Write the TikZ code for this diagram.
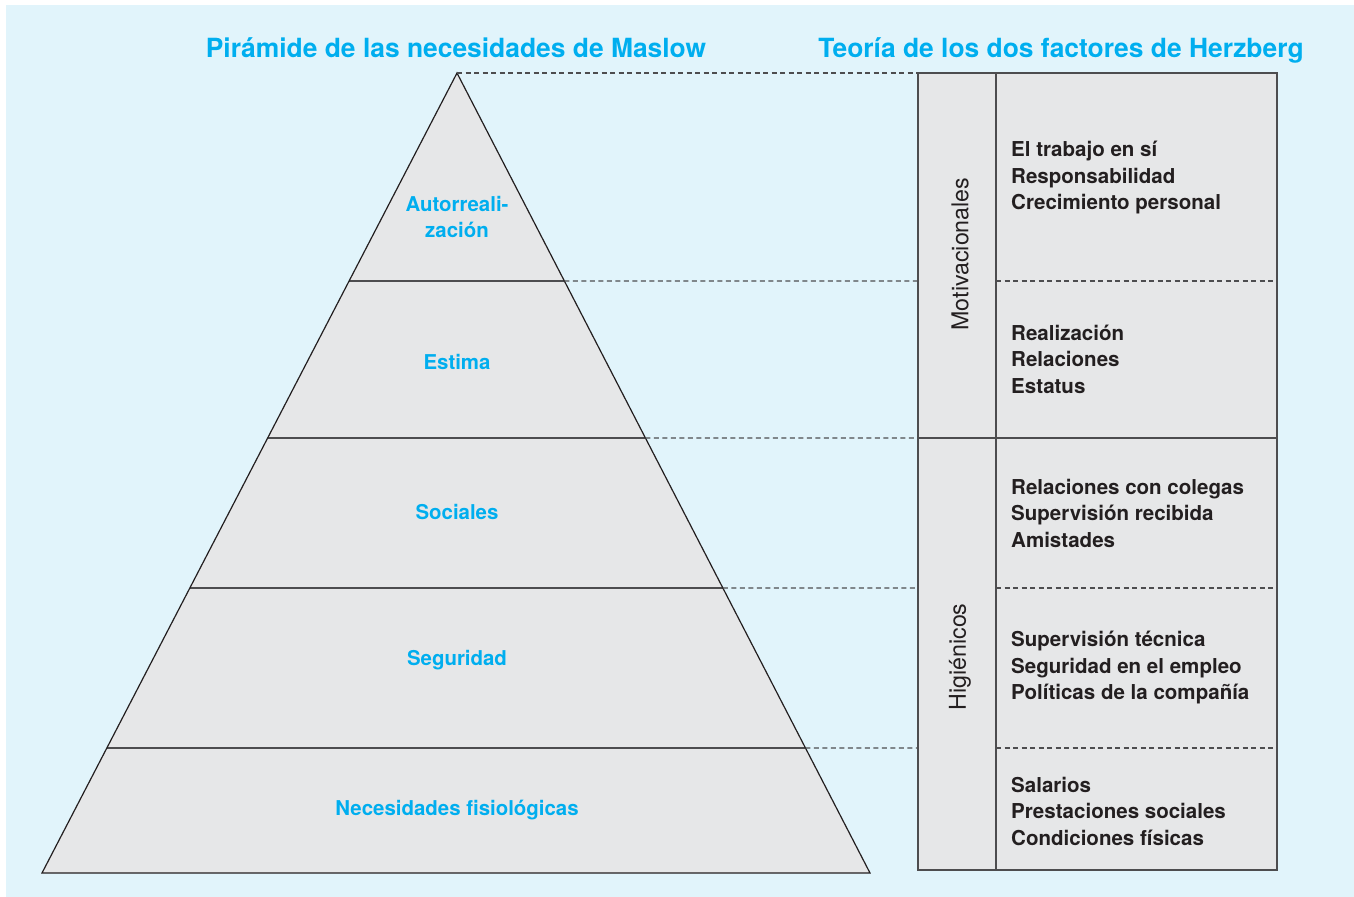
\documentclass[tikz,border=0pt]{standalone}
\usepackage{fontspec}
\setmainfont{TeX Gyre Heros}
\usetikzlibrary{calc}
\definecolor{bgblue}{HTML}{E1F4FB}
\definecolor{fillgray}{HTML}{E6E7E8}
\definecolor{cyanT}{HTML}{00AEEF}
\definecolor{txtdark}{HTML}{231F20}
\definecolor{linegray}{HTML}{4D4D4F}
\begin{document}
\begin{tikzpicture}[x=1bp,y=-1bp,
  titletext/.style={font=\fontsize{26.5}{30}\selectfont\bfseries, text=cyanT, anchor=base, inner sep=0pt},
  leveltext/.style={font=\fontsize{20.5}{26}\selectfont\bfseries, text=cyanT, align=center, inner sep=0pt},
  itemtext/.style={font=\fontsize{20.6}{26.6}\selectfont\bfseries, text=txtdark, align=left, anchor=west, inner sep=0pt},
  sidetext/.style={font=\fontsize{23.3}{26}\selectfont, text=txtdark, rotate=90, inner sep=0pt},
  outline/.style={draw=txtdark, line width=1.2bp},
  levelline/.style={draw=linegray, line width=1.8bp},
  tableline/.style={draw=linegray, line width=1.7bp},
  connector/.style={draw=linegray, line width=1.3bp, dash pattern=on 5bp off 3.5bp},
]
\useasboundingbox (0,0) rectangle (1354,896);
\fill[white] (0,0) rectangle (1354,896);
\fill[bgblue] (6,5) rectangle (1362,904);

% pyramid
\coordinate (apex) at (457,73);
\coordinate (BL) at (42,873);
\coordinate (BR) at (870,873);
\foreach \i/\yy in {1/281,2/438,3/588,4/748}{
  \coordinate (L\i) at ($(apex)!{(\yy-73)/800}!(BL)$);
  \coordinate (R\i) at ($(apex)!{(\yy-73)/800}!(BR)$);
}
\fill[fillgray] (apex) -- (BL) -- (BR) -- cycle;
\foreach \i in {1,2,3,4}{ \draw[levelline] (L\i) -- (R\i); }
\draw[outline, line join=miter] (apex) -- (BL) -- (BR) -- cycle;

% table
\coordinate (T0) at (918,73);
\coordinate (T1) at (918,281);
\coordinate (T2) at (918,438);
\coordinate (T3) at (918,588);
\coordinate (T4) at (918,748);
\coordinate (T5) at (918,870);
\coordinate (D0) at (996,73);
\coordinate (D1) at (996,281);
\coordinate (D2) at (996,438);
\coordinate (D3) at (996,588);
\coordinate (D4) at (996,748);
\coordinate (D5) at (996,870);
\coordinate (E0) at (1277,73);
\coordinate (E1) at (1277,281);
\coordinate (E2) at (1277,438);
\coordinate (E3) at (1277,588);
\coordinate (E4) at (1277,748);
\coordinate (E5) at (1277,870);
\fill[fillgray] (T0) rectangle (E5);
\draw[connector] (D1) -- (E1);
\draw[connector] (D3) -- (E3);
\draw[connector] (D4) -- (E4);
\draw[tableline] (T2) -- (E2);
\draw[tableline] (D0) -- (D5);
\draw[tableline] (T0) rectangle (E5);

% connectors pyramid -> table
\draw[connector] (apex) -- (T0);
\draw[connector] (R1) -- (T1);
\draw[connector] (R2) -- (T2);
\draw[connector] (R3) -- (T3);
\draw[connector] (R4) -- (T4);

% titles
\node[titletext] (t1) at (456,57) {Pirámide de las necesidades de Maslow};
\node[titletext] (t2) at (1061,57) {Teoría de los dos factores de Herzberg};

% pyramid labels
\node[leveltext] (l5) at (457,217) {Autorreali-\\zación};
\node[leveltext] (l4) at (457,362) {Estima};
\node[leveltext] (l3) at (457,512) {Sociales};
\node[leveltext] (l2) at (457,660) {Seguridad};
\node[leveltext] (l1) at (457,810) {Necesidades fisiológicas};

% side labels
\node[sidetext] (mot) at (960,254) {Motivacionales};
\node[sidetext] (hig) at (960,657) {Higiénicos};

% items
\node[itemtext] (i5) at (1011,178) {El trabajo en sí\\Responsabilidad\\Crecimiento personal};
\node[itemtext] (i4) at (1011,359) {Realización\\Relaciones\\Estatus};
\node[itemtext] (i3) at (1011,513) {Relaciones con colegas\\Supervisión recibida\\Amistades};
\node[itemtext] (i2) at (1011,668) {Supervisión técnica\\Seguridad en el empleo\\Políticas de la compañía};
\node[itemtext] (i1) at (1011,811) {Salarios\\Prestaciones sociales\\Condiciones físicas};
\end{tikzpicture}
\end{document}
